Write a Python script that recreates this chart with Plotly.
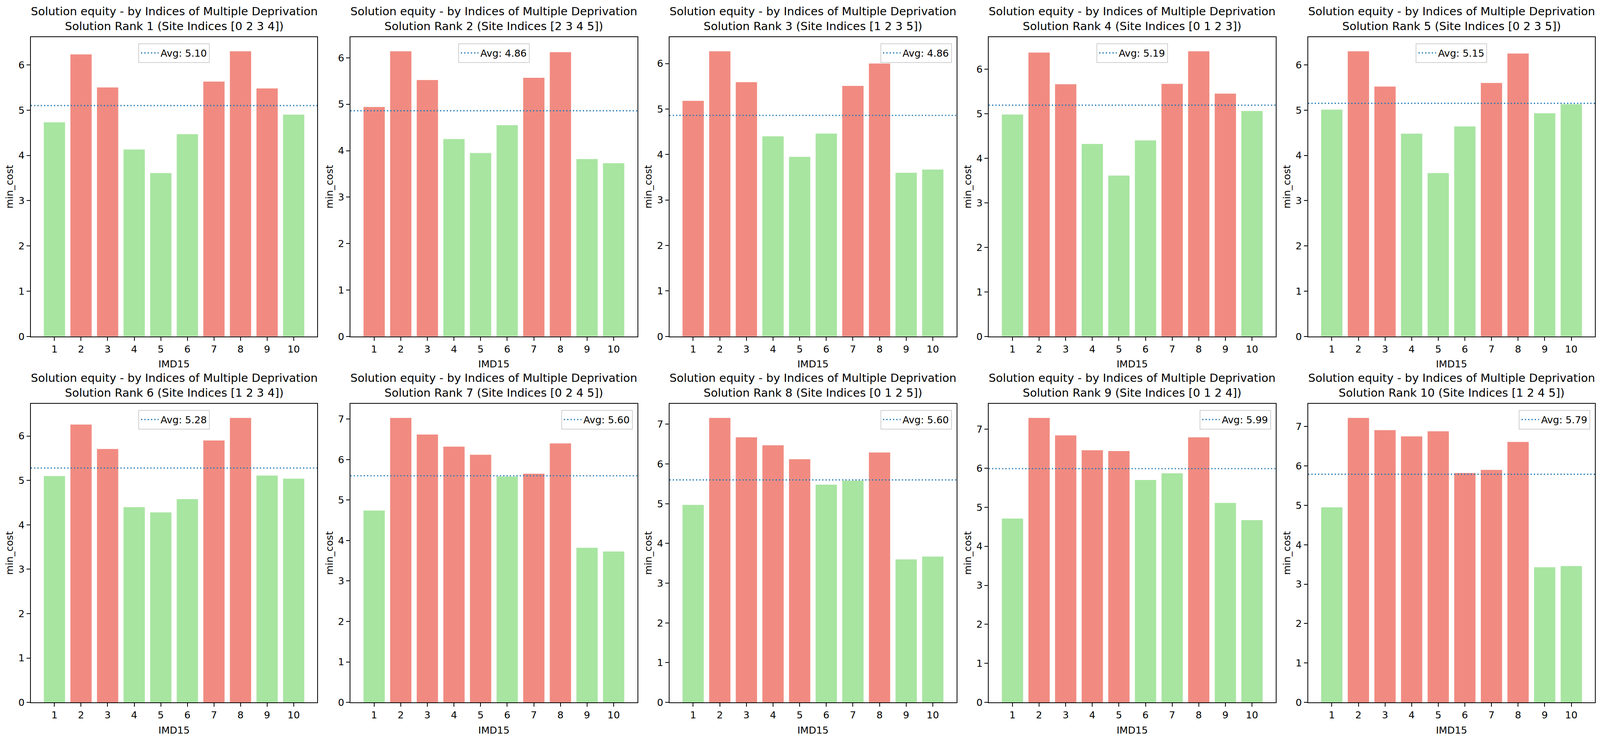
import plotly.graph_objects as go

# Reference canvas and the actual browser viewport (capped at 4096 px wide)
REF_W, REF_H = 4780, 1901
VIEW_W, VIEW_H = 4096, 1901
BODY = 8  # default body margin of the html page
FIG_W, FIG_H = VIEW_W - 2 * BODY, VIEW_H - 2 * BODY

imd15 = [1, 2, 3, 4, 5, 6, 7, 8, 9, 10]
ranks = [1, 2, 3, 4, 5, 6, 7, 8, 9, 10]
site_indices = ["[0 2 3 4]", "[2 3 4 5]", "[1 2 3 5]", "[0 1 2 3]", "[0 2 3 5]",
                "[1 2 3 4]", "[0 2 4 5]", "[0 1 2 5]", "[0 1 2 4]", "[1 2 4 5]"]

cost_rank1 = [4.73, 6.23, 5.50, 4.13, 3.61, 4.47, 5.63, 6.30, 5.48, 4.90]
cost_rank2 = [4.94, 6.14, 5.52, 4.25, 3.95, 4.55, 5.57, 6.12, 3.82, 3.73]
cost_rank3 = [5.18, 6.27, 5.59, 4.40, 3.95, 4.46, 5.51, 6.00, 3.60, 3.67]
cost_rank4 = [4.98, 6.37, 5.66, 4.32, 3.61, 4.40, 5.67, 6.40, 5.45, 5.06]
cost_rank5 = [5.01, 6.30, 5.52, 4.48, 3.61, 4.64, 5.60, 6.25, 4.93, 5.13]
cost_rank6 = [5.10, 6.26, 5.71, 4.40, 4.28, 4.58, 5.90, 6.41, 5.11, 5.04]
cost_rank7 = [4.74, 7.03, 6.62, 6.32, 6.12, 5.58, 5.65, 6.40, 3.82, 3.73]
cost_rank8 = [4.97, 7.16, 6.67, 6.47, 6.12, 5.48, 5.58, 6.29, 3.60, 3.67]
cost_rank9 = [4.71, 7.29, 6.84, 6.46, 6.44, 5.70, 5.87, 6.79, 5.11, 4.67]
cost_rank10 = [4.95, 7.22, 6.91, 6.75, 6.88, 5.82, 5.90, 6.61, 3.43, 3.46]

averages = [5.10, 4.86, 4.86, 5.19, 5.15, 5.28, 5.60, 5.60, 5.99, 5.79]

all_costs = [cost_rank1, cost_rank2, cost_rank3, cost_rank4, cost_rank5,
             cost_rank6, cost_rank7, cost_rank8, cost_rank9, cost_rank10]

legend_loc = ["center", "center", "right", "center", "center",
              "center", "right", "right", "right", "right"]

RED = "#F18B81"
GREEN = "#A8E5A1"
BLUE = "#1f77b4"
FONT = "DejaVu Sans"

TITLE_SIZE = 29
TEXT_SIZE = 25

# panel geometry in reference pixels
lefts = [92, 1047, 2000, 2954, 3908]
rights = [948, 1904, 2857.5, 3811, 4765]
tops = [95.4, 1041]
bottoms = [867.7, 1811.5]


def fx(ref_x):
    return (ref_x / REF_W * VIEW_W - BODY) / FIG_W


def fy(ref_y):
    return 1 - (ref_y / REF_H * VIEW_H - BODY) / FIG_H


XMIN, XMAX = 0.11, 10.89

fig = go.Figure()
layout = dict(width=FIG_W, height=FIG_H, margin=dict(l=0, r=0, t=0, b=0),
              plot_bgcolor="white", paper_bgcolor="white",
              font=dict(family=FONT, size=TEXT_SIZE, color="black"),
              showlegend=True)
annotations = []

for i in range(10):
    row, col = divmod(i, 5)
    n = i + 1
    xa = "x" if n == 1 else f"x{n}"
    ya = "y" if n == 1 else f"y{n}"
    lg = "legend" if n == 1 else f"legend{n}"
    vals = all_costs[i]
    avg = averages[i]
    colors = [RED if v > avg else GREEN for v in vals]
    fig.add_trace(go.Bar(x=imd15, y=vals, marker=dict(color=colors, line=dict(width=0)),
                         width=0.8, xaxis=xa, yaxis=ya, showlegend=False,
                         hoverinfo="x+y"))
    fig.add_trace(go.Scatter(x=[XMIN, XMAX], y=[avg, avg], mode="lines",
                             line=dict(color=BLUE, width=3.2, dash="3px,5.5px"),
                             name=f"Avg: {avg:.2f}", xaxis=xa, yaxis=ya,
                             legend=lg, showlegend=True))
    x0, x1 = fx(lefts[col]), fx(rights[col])
    y0, y1 = fy(bottoms[row]), fy(tops[row])
    ymax = max(vals) * 1.05
    axis_common = dict(showline=True, linecolor="black", linewidth=2, mirror=True,
                       ticks="outside", ticklen=9, tickwidth=2, tickcolor="black",
                       showgrid=False, zeroline=False,
                       tickfont=dict(family=FONT, size=TEXT_SIZE, color="black"))
    layout["xaxis" if n == 1 else f"xaxis{n}"] = dict(
        domain=[x0, x1], anchor=ya, range=[XMIN, XMAX],
        tickmode="array", tickvals=imd15, ticktext=[str(v) for v in imd15],
        title=dict(text="IMD15", font=dict(family=FONT, size=TEXT_SIZE), standoff=16),
        **axis_common)
    layout["yaxis" if n == 1 else f"yaxis{n}"] = dict(
        domain=[y0, y1], anchor=xa, range=[0, ymax], dtick=1, tick0=0,
        title=dict(text="min_cost", font=dict(family=FONT, size=TEXT_SIZE), standoff=6),
        **axis_common)
    if legend_loc[i] == "center":
        lx, lxa = (x0 + x1) / 2, "center"
    else:
        lx, lxa = x1 - 12 / FIG_W, "right"
    layout[lg] = dict(x=lx, xanchor=lxa, y=y1 - 16 / FIG_H, yanchor="top",
                      bgcolor="rgba(255,255,255,0.8)", bordercolor="#d0d0d0",
                      borderwidth=2, font=dict(family=FONT, size=TEXT_SIZE, color="black"),
                      itemwidth=45)
    annotations.append(dict(
        text=f"Solution equity - by Indices of Multiple Deprivation<br>"
             f"Solution Rank {ranks[i]} (Site Indices {site_indices[i]})",
        xref="paper", yref="paper", x=(x0 + x1) / 2, y=y1, xanchor="center",
        yanchor="bottom", yshift=9, showarrow=False,
        font=dict(family=FONT, size=TITLE_SIZE, color="black")))

layout["annotations"] = annotations
fig.update_layout(**layout)
fig.write_html("out.html")
